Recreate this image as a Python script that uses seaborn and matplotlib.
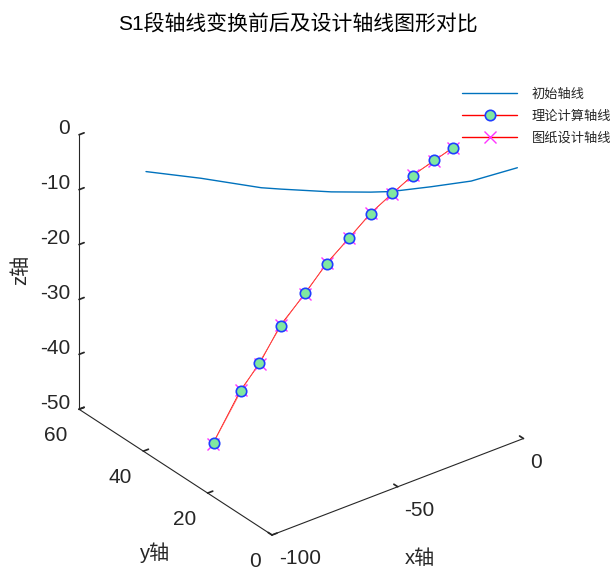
import numpy as np
import matplotlib
matplotlib.use("Agg")
import matplotlib.pyplot as plt
import seaborn as sns

# 初始轴线
x_init = [-90, -76.7, -62.1, -57.2, -45.1, -35.5, -30.6, -20.9, -11.2, 0]
y_init = [47, 40.3, 33.0, 30.6, 24.5, 19.7, 17.2, 12.4, 7.5, 1.9]
z_init = [-3.5, -4.5, -6.0, -6.2, -6.5, -6.4, -6.2, -5.2, -4.0, -1.4]

# 理论计算轴线
x_theo = [-80, -72.0, -66.7, -60.3, -53.4, -46.9, -40.5, -34.1, -27.9, -21.7, -15.7, -10.0]
y_theo = [33.8, 31.5, 30.1, 28.2, 26.3, 24.4, 22.6, 20.8, 19.1, 17.3, 15.6, 14.0]
z_theo = [-49.6, -40.7, -36.0, -29.6, -24.2, -19.2, -14.9, -11.0, -7.7, -4.9, -2.5, -0.7]

# 图纸设计轴线
x_des = [-80.2, -72.1, -66.6, -60.4, -53.5, -46.8, -40.6, -34.0, -28.0, -21.6, -15.8, -10.1]
y_des = [33.9, 31.6, 30.0, 28.3, 26.2, 24.5, 22.5, 20.9, 19.0, 17.4, 15.5, 14.1]
z_des = [-49.8, -40.6, -36.1, -29.5, -24.3, -19.1, -15.0, -10.9, -7.8, -4.8, -2.6, -0.6]

xticks = [-100, -50, 0]
yticks = [0, 20, 40, 60]
zticks = [-50, -40, -30, -20, -10, 0]

sns.set_theme(style="white")
plt.rcParams["font.family"] = ["Liberation Sans", "Noto Sans CJK SC"]
plt.rcParams["axes.unicode_minus"] = False
axcol = "#262626"

fig = plt.figure(figsize=(6.12, 5.68), dpi=100)
ax = fig.add_axes([0.1, 0.05, 0.75, 0.8], projection="3d", proj_type="ortho")
ax.view_init(elev=30, azim=-127.5)
ax.set_box_aspect((1, 1, 1))
ax.computed_zorder = False

l1, = ax.plot(x_init, y_init, z_init, color="#0072BD", lw=1.0, zorder=1)
l3, = ax.plot(x_des, y_des, z_des, color="red", lw=0.6, marker="x", ms=9,
              mec="#ff33ff", mew=1.0, zorder=2)
l2, = ax.plot(x_theo, y_theo, z_theo, color="#ff5050", lw=0.5, marker="o", ms=7.5,
              mfc="#80e8a0", mec="#1f3fff", mew=1.2, zorder=3)

ax.set_xlim(-100, 0)
ax.set_ylim(0, 60)
ax.set_zlim(-50, 0)
ax.set_xticks(xticks, [str(v) for v in xticks], ha="left")
ax.set_yticks(yticks, [str(v) for v in yticks], ha="right")
ax.set_zticks(zticks, [str(v) for v in zticks], ha="right", va="baseline")
ax.grid(False)
for a in (ax.xaxis, ax.yaxis, ax.zaxis):
    a.set_pane_color((1, 1, 1, 0))
    a.pane.set_edgecolor((1, 1, 1, 0))
    a.line.set_color(axcol)
    a.line.set_linewidth(0.8)
    a._axinfo["tick"]["inward_factor"] = 0.0
    a._axinfo["tick"]["outward_factor"] = 0.25
    a._axinfo["tick"]["color"] = axcol
ax.tick_params(labelsize=15, colors=axcol)
ax.tick_params(axis="x", pad=-1)
ax.tick_params(axis="y", pad=1)
ax.tick_params(axis="z", pad=-4)

# axis titles
fig.text(420 / 612, 1 - 558 / 568, "x轴", fontsize=14.5, color=axcol,
         ha="center", va="center")
fig.text(155 / 612, 1 - 553 / 568, "y轴", fontsize=14.5, color=axcol,
         ha="center", va="center")
fig.text(21 / 612, 1 - 270 / 568, "z轴", fontsize=14.5, color=axcol,
         ha="center", va="center", rotation=90)

fig.suptitle("S1段轴线变换前后及设计轴线图形对比", x=0.487, y=0.975,
             fontsize=15, color="black")
leg = fig.legend([l1, l2, l3], ["初始轴线", "理论计算轴线", "图纸设计轴线"],
                 loc="upper left", bbox_to_anchor=(462 / 612, 1 - 88.5 / 568),
                 frameon=False, fontsize=9.5, handlelength=4.2, handletextpad=1.1,
                 labelspacing=0.72, borderpad=0, borderaxespad=0)
for ln in leg.get_lines():
    ln.set_linewidth(1.0)
leg.get_lines()[1].set_color("red")

# place the 3D box so its corners land where they should
tA = np.array([272.0, 568 - 535.0])
tB = np.array([328.0, 568 - 38.0])
cA = (-100, 0, -50)
cB = (0, 60, 0)


def to_px(p):
    v = ax.M @ np.array([p[0], p[1], p[2], 1.0])
    return np.array(ax.transData.transform((v[0] / v[3], v[1] / v[3])))


W, H = fig.bbox.width, fig.bbox.height
for _ in range(4):
    fig.canvas.draw()
    A = to_px(cA)
    B = to_px(cB)
    s = np.linalg.norm(tB - tA) / np.linalg.norm(B - A)
    pos = ax.get_position(original=True)
    c = np.array([(pos.x0 + pos.width / 2) * W, (pos.y0 + pos.height / 2) * H])
    newA = c + s * (A - c)
    c = c + (tA - newA)
    w, h = pos.width * W * s, pos.height * H * s
    ax.set_position([(c[0] - w / 2) / W, (c[1] - h / 2) / H, w / W, h / H])

fig.savefig("out.png", dpi=100)
